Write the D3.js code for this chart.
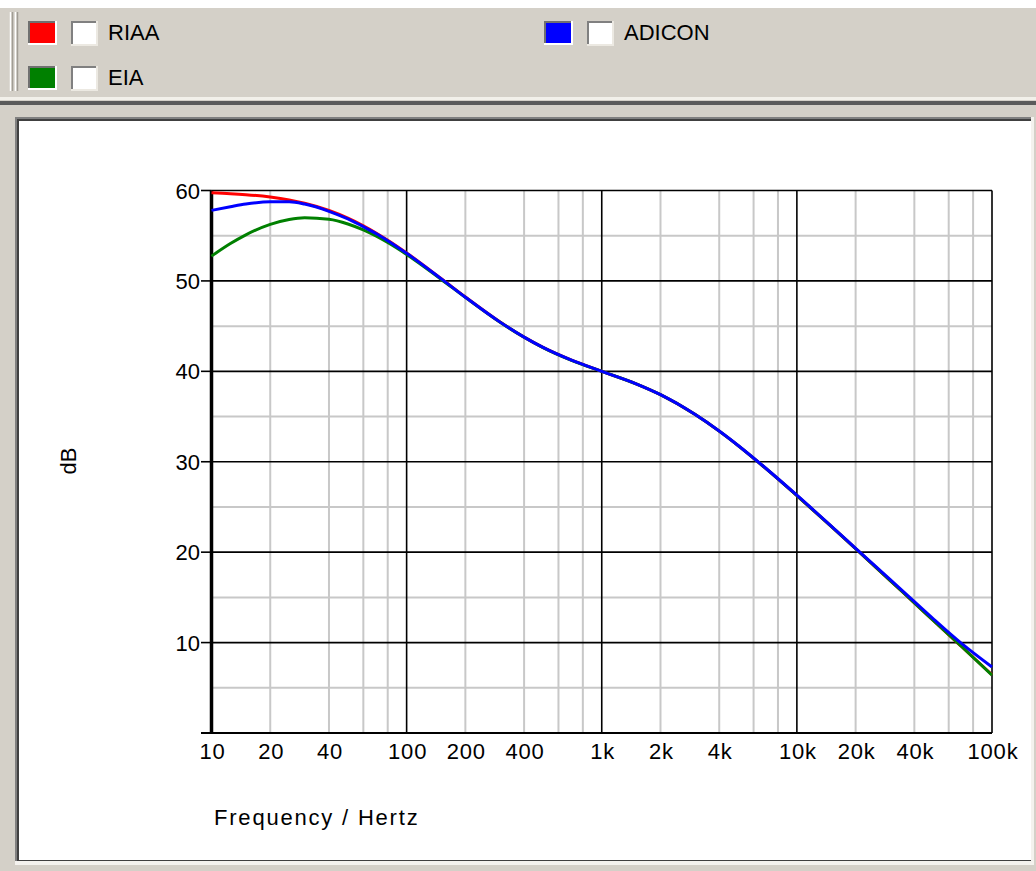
<!DOCTYPE html>
<html>
<head>
<meta charset="utf-8">
<script src="https://cdn.jsdelivr.net/npm/d3@7"></script>
<style>
	html, body { margin: 0; padding: 0; background: #d4d0c8; }
	svg { display: block; font-family: "Liberation Sans", Arial, sans-serif; }
</style>
</head>
<body>
<div id="chart"></div>
<script>
// frequency points (Hz) and curve values (dB)
const freqs = [10, 12.5, 15, 20, 25, 30, 40, 50, 60, 70, 80, 100, 150, 200, 300, 400, 500, 700,
	1000, 1500, 2000, 3000, 4000, 5000, 7000, 10000, 15000, 20000, 30000, 40000, 50000, 70000, 100000];
const riaa = [59.74, 59.65, 59.54, 59.27, 58.95, 58.59, 57.79, 56.94, 56.1, 55.28, 54.5, 53.09, 50.27, 48.22, 45.48, 43.78, 42.64, 41.23,
	40.0, 38.62, 37.42, 35.25, 33.39, 31.79, 29.18, 26.26, 22.85, 20.39, 16.89, 14.39, 12.46, 9.54, 6.44];
const eia = [52.74, 54.13, 55.1, 56.26, 56.8, 56.99, 56.82, 56.3, 55.64, 54.94, 54.24, 52.92, 50.19, 48.18, 45.46, 43.77, 42.63, 41.22,
	40.0, 38.62, 37.42, 35.25, 33.39, 31.79, 29.18, 26.26, 22.85, 20.39, 16.89, 14.39, 12.46, 9.54, 6.4];
const adicon = [57.8, 58.2, 58.5, 58.75, 58.75, 58.5, 57.7, 56.85, 56.0, 55.22, 54.45, 53.05, 50.25, 48.2, 45.47, 43.78, 42.64, 41.23,
	40.0, 38.62, 37.42, 35.25, 33.4, 31.8, 29.2, 26.3, 22.88, 20.43, 16.98, 14.53, 12.63, 9.88, 7.3];

const seriesNames = ['RIAA', 'EIA', 'ADICON'];
const seriesColors = ['#ff0000', '#008000', '#0000ff'];

const xTickValues = [10, 20, 40, 100, 200, 400, 1000, 2000, 4000, 10000, 20000, 40000, 100000];
const xTickLabels = ['10', '20', '40', '100', '200', '400', '1k', '2k', '4k', '10k', '20k', '40k', '100k'];
const yTicks = [10, 20, 30, 40, 50, 60];

const width = 1036, height = 871;
const svg = d3.select('#chart').append('svg').attr('width', width).attr('height', height);

// --- window chrome ---
svg.append('rect').attr('width', width).attr('height', height).attr('fill', '#d4d0c8');
svg.append('rect').attr('width', width).attr('height', 8).attr('fill', '#ffffff');

// toolbar grip
[[10, '#ffffff'], [12, '#a09c94'], [15, '#ffffff'], [17, '#a09c94']].forEach(([x, c]) => {
	svg.append('line').attr('x1', x + 0.5).attr('x2', x + 0.5).attr('y1', 12).attr('y2', 91)
		.attr('stroke', c).attr('stroke-width', 1.5);
});

// toolbar separator
svg.append('rect').attr('x', 0).attr('y', 97).attr('width', width).attr('height', 3).attr('fill', '#f2f0ea');
svg.append('rect').attr('x', 0).attr('y', 101).attr('width', width).attr('height', 4).attr('fill', '#5a5a5a');

// sunken panel
svg.append('rect').attr('x', 15).attr('y', 117).attr('width', 1019).attr('height', 748).attr('fill', '#f4f2ee');
svg.append('rect').attr('x', 15).attr('y', 117).attr('width', 1016).attr('height', 744).attr('fill', '#808080');
svg.append('rect').attr('x', 17).attr('y', 119).attr('width', 1014).attr('height', 742).attr('fill', '#404040');
svg.append('rect').attr('x', 19).attr('y', 121).attr('width', 1012).attr('height', 739).attr('fill', '#ffffff');

// legend
const legendPos = [[28, 21], [28, 66], [544, 21]];
const legend = svg.append('g').attr('class', 'legend');
seriesNames.forEach((name, i) => {
	const [lx, ly] = legendPos[i];
	const g = legend.append('g').attr('transform', `translate(${lx},${ly})`);
	// colour swatch
	g.append('rect').attr('width', 29).attr('height', 24).attr('fill', '#ffffff');
	g.append('rect').attr('width', 27).attr('height', 22).attr('fill', '#707070');
	g.append('rect').attr('x', 2).attr('y', 2).attr('width', 25).attr('height', 20).attr('fill', seriesColors[i]);
	// checkbox
	g.append('rect').attr('x', 43).attr('width', 27).attr('height', 25).attr('fill', '#ece9e2');
	g.append('rect').attr('x', 43).attr('width', 25).attr('height', 23).attr('fill', '#808080');
	g.append('rect').attr('x', 45).attr('y', 2).attr('width', 23).attr('height', 21).attr('fill', '#ffffff');
	g.append('text').attr('x', 80).attr('y', 19).attr('font-size', 22).attr('fill', '#000')
		.text(name);
});

// --- plot ---
const x = d3.scaleLog().domain([10, 100000]).range([211.5, 992]);
const y = d3.scaleLinear().domain([0, 60]).range([733, 190.5]);

const minorX = [];
[10, 100, 1000, 10000].forEach(dec => [2, 4, 6, 8].forEach(m => minorX.push(dec * m)));
const majorX = [10, 100, 1000, 10000, 100000];
const minorY = [5, 15, 25, 35, 45, 55];

const grid = svg.append('g').attr('class', 'grid');
grid.selectAll('line.mx').data(minorX).enter().append('line')
	.attr('x1', d => x(d)).attr('x2', d => x(d)).attr('y1', y(60)).attr('y2', y(0))
	.attr('stroke', '#c8c8c8').attr('stroke-width', 2);
grid.selectAll('line.my').data(minorY).enter().append('line')
	.attr('x1', x(10)).attr('x2', x(100000)).attr('y1', d => y(d)).attr('y2', d => y(d))
	.attr('stroke', '#c8c8c8').attr('stroke-width', 2);
grid.selectAll('line.Mx').data(majorX).enter().append('line')
	.attr('x1', d => x(d)).attr('x2', d => x(d)).attr('y1', y(60)).attr('y2', y(0))
	.attr('stroke', '#000').attr('stroke-width', 1.6);
grid.selectAll('line.My').data(yTicks).enter().append('line')
	.attr('x1', x(10)).attr('x2', x(100000)).attr('y1', d => y(d)).attr('y2', d => y(d))
	.attr('stroke', '#000').attr('stroke-width', 1.6);

// axes
svg.append('line').attr('x1', 201).attr('x2', x(100000)).attr('y1', y(0)).attr('y2', y(0))
	.attr('stroke', '#000').attr('stroke-width', 1.8);
svg.append('line').attr('x1', x(10)).attr('x2', x(10)).attr('y1', y(60)).attr('y2', y(0))
	.attr('stroke', '#000').attr('stroke-width', 3.5);
svg.selectAll('line.ytick').data(yTicks).enter().append('line')
	.attr('x1', 201).attr('x2', x(10)).attr('y1', d => y(d)).attr('y2', d => y(d))
	.attr('stroke', '#000').attr('stroke-width', 1.6);

svg.selectAll('text.ylab').data(yTicks).enter().append('text')
	.attr('x', 200).attr('y', d => y(d) + 8).attr('text-anchor', 'end')
	.attr('font-size', 22).attr('fill', '#000').text(d => d);

svg.selectAll('text.xlab').data(xTickValues).enter().append('text')
	.attr('x', d => x(d) + 1).attr('y', 759).attr('text-anchor', 'middle')
	.attr('font-size', 22).attr('letter-spacing', 0.8).attr('fill', '#000')
	.text((d, i) => xTickLabels[i]);

svg.append('text').attr('x', 214).attr('y', 825).attr('font-size', 22).attr('letter-spacing', 1.8)
	.attr('fill', '#000').text('Frequency / Hertz');
svg.append('text').attr('transform', 'translate(76,461) rotate(-90)').attr('text-anchor', 'middle')
	.attr('font-size', 22).attr('fill', '#000').text('dB');

// curves
const seriesData = [riaa, eia, adicon];
const line = d3.line().x(d => x(d[0])).y(d => y(d[1])).curve(d3.curveMonotoneX);
svg.append('g').selectAll('path').data(seriesData).enter().append('path')
	.attr('d', vals => line(freqs.map((f, i) => [f, vals[i]])))
	.attr('fill', 'none')
	.attr('stroke', (d, i) => seriesColors[i])
	.attr('stroke-width', 3);
</script>
</body>
</html>
